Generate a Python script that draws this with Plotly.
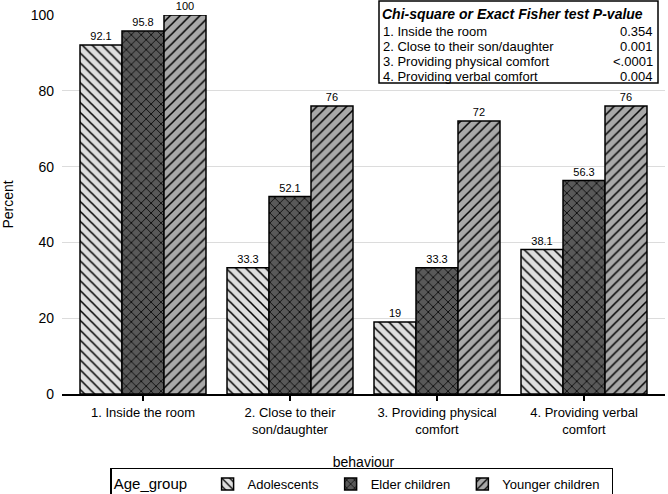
import plotly.graph_objects as go

categories = ["1. Inside the room", "2. Close to their son/daughter",
              "3. Providing physical comfort", "4. Providing verbal comfort"]
tickLabels = ["1. Inside the room", "2. Close to their<br>son/daughter",
              "3. Providing physical<br>comfort", "4. Providing verbal<br>comfort"]
adolescents = [92.1, 33.3, 19, 38.1]
elderChildren = [95.8, 52.1, 33.3, 56.3]
youngerChildren = [100, 76, 72, 76]

testRows = ["1. Inside the room", "2. Close to their son/daughter",
            "3. Providing physical comfort", "4. Providing verbal comfort"]
pValues = ["0.354", "0.001", "<.0001", "0.004"]

FONT = "Liberation Sans, Arial, sans-serif"
PAD = "\u00a0\u00a0"

# plot area in pixels, used to place the p-value box
W, H = 668, 494
L, R, T, B = 62, 3, 15, 100
plotW = W - L - R
plotH = H - T - B


def px_x(x):
    return (x - L) / plotW


def px_y(y):
    return (H - B - y) / plotH


series = [
    ("Adolescents", adolescents, "#dedede", "\\"),
    ("Elder children", elderChildren, "#595959", "x"),
    ("Younger children", youngerChildren, "#a8a8a8", "/"),
]

fig = go.Figure()
for name, values, bg, shape in series:
    fig.add_trace(go.Bar(
        x=categories, y=values, name=name + PAD,
        text=[f"{v:g}" for v in values], textposition="outside",
        textfont=dict(size=11, color="black", family=FONT),
        cliponaxis=False,
        marker=dict(color=bg, line=dict(color="black", width=1.5),
                    pattern=dict(shape=shape, bgcolor=bg, fgcolor="black",
                                 fgopacity=1, size=7, solidity=0.22,
                                 fillmode="replace")),
    ))

fig.update_layout(
    width=W, height=H,
    margin=dict(l=L, r=R, t=T, b=B, autoexpand=False),
    barmode="group", bargap=0.143, bargroupgap=0,
    plot_bgcolor="white", paper_bgcolor="white",
    font=dict(family=FONT, size=13, color="black"),
    uniformtext=dict(minsize=11, mode="show"),
    xaxis=dict(
        tickmode="array", tickvals=categories, ticktext=tickLabels,
        range=[-0.551, 3.551], showline=True, linecolor="black", linewidth=2,
        ticks="outside", ticklen=5, tickcolor="black", tickwidth=1.5,
        tickfont=dict(size=13), automargin=False,
        title=dict(text="behaviour", font=dict(size=14), standoff=22),
    ),
    yaxis=dict(
        range=[0, 100], tickvals=[0, 20, 40, 60, 80, 100],
        showgrid=True, gridcolor="#dcdcdc", gridwidth=1,
        zeroline=False, showline=False, ticks="", ticklabelstandoff=7,
        tickfont=dict(size=14), automargin=False,
        title=dict(text="Percent", font=dict(size=14), standoff=14),
    ),
    legend=dict(
        orientation="h", x=0.497, xanchor="center", y=-0.194, yanchor="top",
        bordercolor="black", borderwidth=1.5, bgcolor="white",
        title=dict(text="Age_group   ", side="left", font=dict(size=15)),
        font=dict(size=13), itemwidth=30, traceorder="normal",
    ),
)

# p-value box
fig.add_shape(type="rect", xref="paper", yref="paper",
              x0=px_x(379), x1=px_x(658), y0=px_y(83), y1=px_y(1),
              line=dict(color="black", width=1.5), fillcolor="white", layer="above")
fig.add_annotation(xref="paper", yref="paper", x=px_x(380), y=px_y(14),
                   xanchor="left", yanchor="middle", showarrow=False,
                   text="<b><i>Chi-square or Exact Fisher test P-value</i></b>",
                   font=dict(size=14))
rowY = [31, 46, 61, 76]
for label, pval, yy in zip(testRows, pValues, rowY):
    fig.add_annotation(xref="paper", yref="paper", x=px_x(381), y=px_y(yy),
                       xanchor="left", yanchor="middle", showarrow=False,
                       text=label, font=dict(size=13))
    fig.add_annotation(xref="paper", yref="paper", x=px_x(655), y=px_y(yy),
                       xanchor="right", yanchor="middle", showarrow=False,
                       text=pval, font=dict(size=13))

# drop the browser's default page margin so the figure sits at the corner
fig.write_html("out.html", config={"displayModeBar": False},
               post_script="document.body.style.margin='0';")
